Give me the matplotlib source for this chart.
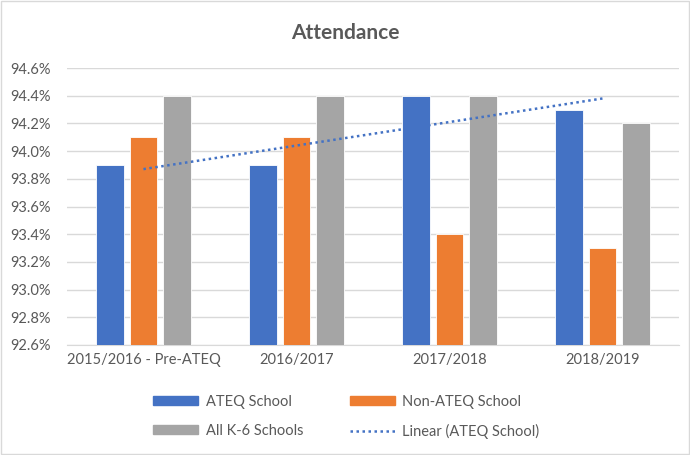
import numpy as np
import matplotlib
matplotlib.use("Agg")
import matplotlib.pyplot as plt
from matplotlib.patches import Rectangle
from matplotlib.lines import Line2D

categories = ["2015/2016 - Pre-ATEQ", "2016/2017", "2017/2018", "2018/2019"]
ateq = [93.9, 93.9, 94.4, 94.3]
non_ateq = [94.1, 94.1, 93.4, 93.3]
all_k6 = [94.4, 94.4, 94.4, 94.2]
series_names = ["ATEQ School", "Non-ATEQ School", "All K-6 Schools"]
colors = ["#4472C4", "#ED7D31", "#A5A5A5"]
yticks = [92.6, 92.8, 93.0, 93.2, 93.4, 93.6, 93.8, 94.0, 94.2, 94.4, 94.6]

plt.rcParams['font.family'] = ['Lato', 'DejaVu Sans']
txt = "#595959"

fig = plt.figure(figsize=(6.9, 4.55), dpi=100)
ax = fig.add_axes([0.097, 0.2418, 0.887, 0.6087])

x = np.arange(len(categories))
w = 0.18
step = 0.22
for i, (vals, c, n) in enumerate(zip([ateq, non_ateq, all_k6], colors, series_names)):
    ax.bar(x + (i - 1) * step, np.array(vals) - 92.6, bottom=92.6, width=w,
           color=c, edgecolor="white", linewidth=0.6, label=n, zorder=3)

coef = np.polyfit(x, ateq, 1)
ax.plot(x, np.polyval(coef, x), linestyle=(0, (1, 1.4)), color="#4472C4",
        linewidth=1.8, zorder=4, label="Linear (ATEQ School)")

ax.set_xlim(-0.5, len(categories) - 0.5)
ax.set_ylim(92.6, 94.6)
ax.set_yticks(yticks)
ax.set_yticklabels([f"{v:.1f}%" for v in yticks])
ax.set_xticks(x)
ax.set_xticklabels(categories)
ax.grid(axis="y", color="#D9D9D9", linewidth=1, zorder=0)
for s in ["top", "right", "left"]:
    ax.spines[s].set_visible(False)
ax.spines["bottom"].set_color("#D9D9D9")
ax.tick_params(axis="both", length=0, colors=txt, labelsize=10.5)
ax.tick_params(axis="y", pad=12)
ax.tick_params(axis="x", pad=6)

fig.text(0.5, 0.928, "Attendance", ha="center", va="center", fontsize=15,
         fontweight="bold", color=txt)

handles = [Rectangle((0, 0), 1, 1, color=colors[0]),
           Rectangle((0, 0), 1, 1, color=colors[1]),
           Rectangle((0, 0), 1, 1, color=colors[2]),
           Line2D([0], [0], linestyle=(0, (1, 1.4)), color="#4472C4", linewidth=1.8)]
labels = ["ATEQ School", "Non-ATEQ School", "All K-6 Schools", "Linear (ATEQ School)"]
# order so that row1: ATEQ, Non-ATEQ ; row2: All K-6, Linear
order = [0, 2, 1, 3]
leg = fig.legend([handles[i] for i in order], [labels[i] for i in order],
                 ncol=2, loc="center", bbox_to_anchor=(0.502, 0.084),
                 frameon=False, fontsize=10.5, handlelength=3.1, handleheight=0.55,
                 columnspacing=3.2, labelspacing=1.0, handletextpad=0.5)
for t in leg.get_texts():
    t.set_color(txt)

fig.patches.append(Rectangle((0.0015, 0.002), 0.997, 0.996, transform=fig.transFigure,
                             fill=False, edgecolor="#D9D9D9", linewidth=1))

fig.savefig("out.png", dpi=100)
